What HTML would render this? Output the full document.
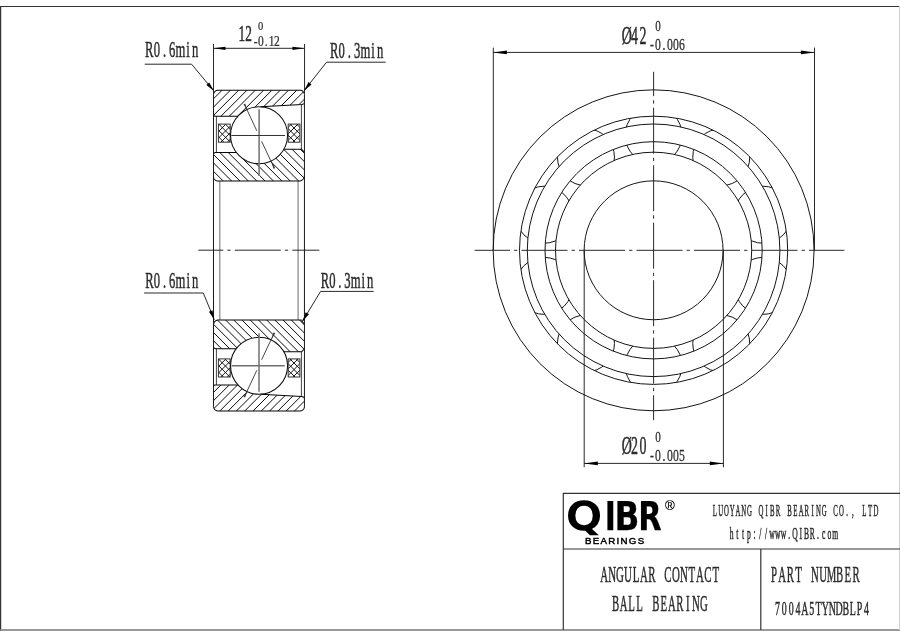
<!DOCTYPE html>
<html lang="en"><head><meta charset="utf-8"><title>7004A5TYNDBLP4 Angular Contact Ball Bearing - QIBR</title>
<style>html,body{margin:0;padding:0;background:#fff}body{width:900px;height:636px;overflow:hidden}svg{display:block;will-change:transform;filter:grayscale(1)}text{font-family:"Liberation Serif",serif;fill:#2b2b2b}.m{stroke:#2b2b2b;stroke-width:0.4;vector-effect:non-scaling-stroke;paint-order:stroke}.sans{font-family:"Liberation Sans",sans-serif}.logo{font-family:"DejaVu Sans","Liberation Sans",sans-serif}.k{fill:#000;stroke:#000}.l{stroke:#050505;stroke-width:1.02;fill:none}.t{stroke:#444;stroke-width:1;fill:none}.h{stroke:#0a0a0a;stroke-width:1;fill:none}.c{stroke:#151515;stroke-width:1;fill:none}.cl{stroke:#161616;stroke-width:0.92;fill:none}.ar{fill:#000;stroke:none}</style></head><body>
<svg width="900" height="636" viewBox="0 0 900 636">
<rect width="900" height="636" fill="#fff"/>
<defs>
<clipPath id="cOT"><path d="M214.7 116.2 L213.5 115 L213.5 94.85 L213.51 94.54 L213.54 94.24 L213.59 93.93 L213.66 93.63 L213.75 93.34 L213.86 93.05 L213.98 92.77 L214.13 92.5 L214.29 92.24 L214.47 91.99 L214.67 91.75 L214.88 91.53 L215.1 91.32 L215.34 91.12 L215.59 90.94 L215.85 90.78 L216.12 90.63 L216.4 90.51 L216.69 90.4 L216.98 90.31 L217.28 90.24 L217.59 90.19 L217.89 90.16 L218.2 90.15 L299.85 90.15 L300.15 90.16 L300.45 90.19 L300.75 90.24 L301.04 90.31 L301.33 90.39 L301.61 90.5 L301.88 90.62 L302.15 90.77 L302.41 90.93 L302.65 91.1 L302.88 91.29 L303.1 91.5 L303.31 91.72 L303.5 91.95 L303.67 92.19 L303.83 92.45 L303.98 92.72 L304.1 92.99 L304.21 93.27 L304.29 93.56 L304.36 93.85 L304.41 94.15 L304.44 94.45 L304.45 94.75 L304.45 102.54 L303.85 103.94 L301.85 104.54 L260.64 106.84 L258.83 106.8 L257.01 106.87 L255.2 107.06 L253.41 107.36 L251.65 107.78 L249.91 108.31 L248.21 108.94 L246.55 109.69 L244.95 110.53 L243.4 111.48 L241.91 112.53 L240.5 113.67 L239.16 114.89 L237.9 116.2 Z"/></clipPath>
<clipPath id="cOB"><path d="M214.7 384.9 L213.5 386.1 L213.5 406.25 L213.51 406.56 L213.54 406.86 L213.59 407.17 L213.66 407.47 L213.75 407.76 L213.86 408.05 L213.98 408.33 L214.13 408.6 L214.29 408.86 L214.47 409.11 L214.67 409.35 L214.88 409.57 L215.1 409.78 L215.34 409.98 L215.59 410.16 L215.85 410.32 L216.12 410.47 L216.4 410.59 L216.69 410.7 L216.98 410.79 L217.28 410.86 L217.59 410.91 L217.89 410.94 L218.2 410.95 L299.85 410.95 L300.15 410.94 L300.45 410.91 L300.75 410.86 L301.04 410.79 L301.33 410.71 L301.61 410.6 L301.88 410.48 L302.15 410.33 L302.41 410.17 L302.65 410 L302.88 409.81 L303.1 409.6 L303.31 409.38 L303.5 409.15 L303.67 408.91 L303.83 408.65 L303.98 408.38 L304.1 408.11 L304.21 407.83 L304.29 407.54 L304.36 407.25 L304.41 406.95 L304.44 406.65 L304.45 406.35 L304.45 398.56 L303.85 397.16 L301.85 396.56 L260.64 394.26 L258.83 394.3 L257.01 394.23 L255.2 394.04 L253.41 393.74 L251.65 393.32 L249.91 392.79 L248.21 392.16 L246.55 391.41 L244.95 390.57 L243.4 389.62 L241.91 388.57 L240.5 387.43 L239.16 386.21 L237.9 384.9 Z"/></clipPath>
<clipPath id="cIT"><path d="M213.5 154.9 L213.51 154.74 L213.52 154.57 L213.55 154.41 L213.59 154.25 L213.63 154.1 L213.69 153.94 L213.76 153.79 L213.83 153.65 L213.92 153.51 L214.02 153.38 L214.12 153.25 L214.23 153.13 L214.35 153.02 L214.48 152.92 L214.61 152.82 L214.75 152.73 L214.89 152.66 L215.04 152.59 L215.2 152.53 L215.35 152.49 L215.51 152.45 L215.67 152.42 L215.84 152.41 L216 152.4 L236.25 152.4 L237.35 153.78 L238.53 155.08 L239.79 156.31 L241.13 157.46 L242.53 158.53 L244 159.5 L245.52 160.39 L247.1 161.17 L248.72 161.86 L250.38 162.45 L252.07 162.93 L253.79 163.31 L255.54 163.58 L257.29 163.75 L259.05 163.8 L260.82 163.74 L262.59 163.58 L264.34 163.31 L266.07 162.92 L267.77 162.43 L269.44 161.84 L271.07 161.14 L272.65 160.34 L274.18 159.45 L275.65 158.46 L277.06 157.39 L278.4 156.22 L279.66 154.98 L280.85 153.66 L281.95 152.27 L282.96 150.82 L283.87 149.3 L301.55 149.3 L304.45 152.3 L304.45 175.3 L304.44 175.68 L304.4 176.06 L304.34 176.43 L304.25 176.8 L304.14 177.16 L304.01 177.52 L303.85 177.87 L303.67 178.2 L303.47 178.52 L303.25 178.83 L303.01 179.12 L302.75 179.4 L302.47 179.66 L302.18 179.9 L301.87 180.12 L301.55 180.32 L301.22 180.5 L300.87 180.66 L300.51 180.79 L300.15 180.9 L299.78 180.99 L299.41 181.05 L299.03 181.09 L298.65 181.1 L218.3 181.1 L217.99 181.09 L217.67 181.06 L217.36 181.01 L217.06 180.94 L216.76 180.85 L216.46 180.73 L216.18 180.6 L215.9 180.46 L215.63 180.29 L215.38 180.11 L215.14 179.91 L214.91 179.69 L214.69 179.46 L214.49 179.22 L214.31 178.97 L214.14 178.7 L214 178.42 L213.87 178.14 L213.75 177.84 L213.66 177.54 L213.59 177.24 L213.54 176.93 L213.51 176.61 L213.5 176.3 Z"/></clipPath>
<clipPath id="cIB"><path d="M213.5 346.2 L213.51 346.36 L213.52 346.53 L213.55 346.69 L213.59 346.85 L213.63 347 L213.69 347.16 L213.76 347.31 L213.83 347.45 L213.92 347.59 L214.02 347.72 L214.12 347.85 L214.23 347.97 L214.35 348.08 L214.48 348.18 L214.61 348.28 L214.75 348.37 L214.89 348.44 L215.04 348.51 L215.2 348.57 L215.35 348.61 L215.51 348.65 L215.67 348.68 L215.84 348.69 L216 348.7 L236.25 348.7 L237.35 347.32 L238.53 346.02 L239.79 344.79 L241.13 343.64 L242.53 342.57 L244 341.6 L245.52 340.71 L247.1 339.93 L248.72 339.24 L250.38 338.65 L252.07 338.17 L253.79 337.79 L255.54 337.52 L257.29 337.35 L259.05 337.3 L260.82 337.36 L262.59 337.52 L264.34 337.79 L266.07 338.18 L267.77 338.67 L269.44 339.26 L271.07 339.96 L272.65 340.76 L274.18 341.65 L275.65 342.64 L277.06 343.71 L278.4 344.88 L279.66 346.12 L280.85 347.44 L281.95 348.83 L282.96 350.28 L283.87 351.8 L301.55 351.8 L304.45 348.8 L304.45 324.2 L300.65 320 L218.3 320 L217.99 320.01 L217.67 320.04 L217.36 320.09 L217.06 320.16 L216.76 320.25 L216.46 320.37 L216.18 320.5 L215.9 320.64 L215.63 320.81 L215.38 320.99 L215.14 321.19 L214.91 321.41 L214.69 321.64 L214.49 321.88 L214.31 322.13 L214.14 322.4 L214 322.68 L213.87 322.96 L213.75 323.26 L213.66 323.56 L213.59 323.86 L213.54 324.17 L213.51 324.49 L213.5 324.8 Z"/></clipPath>
<clipPath id="cAn"><path clip-rule="evenodd" d="M519.5 250.3 a134.1 134.1 0 1 0 268.2 0 a134.1 134.1 0 1 0 -268.2 0 Z M527.3 250.3 a126.3 126.3 0 1 0 252.6 0 a126.3 126.3 0 1 0 -252.6 0 Z M545 250.3 a108.6 108.6 0 1 0 217.2 0 a108.6 108.6 0 1 0 -217.2 0 Z M555.5 250.3 a98.1 98.1 0 1 0 196.2 0 a98.1 98.1 0 1 0 -196.2 0 Z"/></clipPath>
<clipPath id="cG0"><rect x="218.4" y="124.1" width="11.8" height="18.1"/></clipPath>
<clipPath id="cH0"><rect x="218.4" y="358.9" width="11.8" height="18.1"/></clipPath>
<clipPath id="cG1"><rect x="288.2" y="124.1" width="11.7" height="18.1"/></clipPath>
<clipPath id="cH1"><rect x="288.2" y="358.9" width="11.7" height="18.1"/></clipPath>
</defs>
<g id="frame">
<line x1="0" y1="6.5" x2="900" y2="6.5" stroke="#333" stroke-width="1.1"/>
<line x1="0.5" y1="6" x2="0.5" y2="630.5" stroke="#333" stroke-width="1.4"/>
<line x1="0" y1="630" x2="900" y2="630" stroke="#777" stroke-width="1.6"/>
<line x1="899.5" y1="6" x2="899.5" y2="630" stroke="#d2d2d2" stroke-width="1"/>
</g>
<g id="side-view">
<path class="h" clip-path="url(#cOT)" d="M177.7 118 L207.7 88 M186 118 L216 88 M194.3 118 L224.3 88 M202.6 118 L232.6 88 M210.9 118 L240.9 88 M219.2 118 L249.2 88 M227.5 118 L257.5 88 M235.8 118 L265.8 88 M244.1 118 L274.1 88 M252.4 118 L282.4 88 M260.7 118 L290.7 88 M269 118 L299 88 M277.3 118 L307.3 88 M285.6 118 L315.6 88 M293.9 118 L323.9 88 M302.2 118 L332.2 88 M310.5 118 L340.5 88"/>
<path class="h" clip-path="url(#cIT)" d="M171.44 146 L208.44 183 M179.82 146 L216.82 183 M188.2 146 L225.2 183 M196.58 146 L233.58 183 M204.96 146 L241.96 183 M213.34 146 L250.34 183 M221.72 146 L258.72 183 M230.1 146 L267.1 183 M238.48 146 L275.48 183 M246.86 146 L283.86 183 M255.24 146 L292.24 183 M263.62 146 L300.62 183 M272 146 L309 183 M280.38 146 L317.38 183 M288.76 146 L325.76 183 M297.14 146 L334.14 183 M305.52 146 L342.52 183"/>
<path class="h" clip-path="url(#cIB)" d="M174.45 318.1 L211.45 355.1 M182.66 318.1 L219.66 355.1 M190.87 318.1 L227.87 355.1 M199.08 318.1 L236.08 355.1 M207.29 318.1 L244.29 355.1 M215.5 318.1 L252.5 355.1 M223.71 318.1 L260.71 355.1 M231.92 318.1 L268.92 355.1 M240.13 318.1 L277.13 355.1 M248.34 318.1 L285.34 355.1 M256.55 318.1 L293.55 355.1 M264.76 318.1 L301.76 355.1 M272.97 318.1 L309.97 355.1 M281.18 318.1 L318.18 355.1 M289.39 318.1 L326.39 355.1 M297.6 318.1 L334.6 355.1 M305.81 318.1 L342.81 355.1"/>
<path class="h" clip-path="url(#cOB)" d="M126.4 413.1 L156.4 383.1 M134.7 413.1 L164.7 383.1 M143 413.1 L173 383.1 M151.3 413.1 L181.3 383.1 M159.6 413.1 L189.6 383.1 M167.9 413.1 L197.9 383.1 M176.2 413.1 L206.2 383.1 M184.5 413.1 L214.5 383.1 M192.8 413.1 L222.8 383.1 M201.1 413.1 L231.1 383.1 M209.4 413.1 L239.4 383.1 M217.7 413.1 L247.7 383.1 M226 413.1 L256 383.1 M234.3 413.1 L264.3 383.1 M242.6 413.1 L272.6 383.1 M250.9 413.1 L280.9 383.1 M259.2 413.1 L289.2 383.1 M267.5 413.1 L297.5 383.1 M275.8 413.1 L305.8 383.1 M284.1 413.1 L314.1 383.1 M292.4 413.1 L322.4 383.1 M300.7 413.1 L330.7 383.1 M309 413.1 L339 383.1"/>
<path style="stroke-width:0.95" class="h" clip-path="url(#cG0)" d="M194.8 142.2 L212.9 124.1 M201.3 142.2 L219.4 124.1 M207.8 142.2 L225.9 124.1 M214.3 142.2 L232.4 124.1 M220.8 142.2 L238.9 124.1 M227.3 142.2 L245.4 124.1 M233.8 142.2 L251.9 124.1 M199.3 124.1 L217.4 142.2 M205.8 124.1 L223.9 142.2 M212.3 124.1 L230.4 142.2 M218.8 124.1 L236.9 142.2 M225.3 124.1 L243.4 142.2 M231.8 124.1 L249.9 142.2"/>
<rect style="stroke:#333" class="t" x="218.4" y="124.1" width="11.8" height="18.1"/>
<path style="stroke-width:0.95" class="h" clip-path="url(#cH0)" d="M194.9 377 L213 358.9 M201.4 377 L219.5 358.9 M207.9 377 L226 358.9 M214.4 377 L232.5 358.9 M220.9 377 L239 358.9 M227.4 377 L245.5 358.9 M233.9 377 L252 358.9 M198.8 358.9 L216.9 377 M205.3 358.9 L223.4 377 M211.8 358.9 L229.9 377 M218.3 358.9 L236.4 377 M224.8 358.9 L242.9 377 M231.3 358.9 L249.4 377"/>
<rect style="stroke:#333" class="t" x="218.4" y="358.9" width="11.8" height="18.1"/>
<path style="stroke-width:0.95" class="h" clip-path="url(#cG1)" d="M266.8 142.2 L284.9 124.1 M273.3 142.2 L291.4 124.1 M279.8 142.2 L297.9 124.1 M286.3 142.2 L304.4 124.1 M292.8 142.2 L310.9 124.1 M299.3 142.2 L317.4 124.1 M305.8 142.2 L323.9 124.1 M264.1 124.1 L282.2 142.2 M270.6 124.1 L288.7 142.2 M277.1 124.1 L295.2 142.2 M283.6 124.1 L301.7 142.2 M290.1 124.1 L308.2 142.2 M296.6 124.1 L314.7 142.2 M303.1 124.1 L321.2 142.2"/>
<rect style="stroke:#333" class="t" x="288.2" y="124.1" width="11.7" height="18.1"/>
<path style="stroke-width:0.95" class="h" clip-path="url(#cH1)" d="M267.05 377 L285.15 358.9 M273.55 377 L291.65 358.9 M280.05 377 L298.15 358.9 M286.55 377 L304.65 358.9 M293.05 377 L311.15 358.9 M299.55 377 L317.65 358.9 M306.05 377 L324.15 358.9 M263.85 358.9 L281.95 377 M270.35 358.9 L288.45 377 M276.85 358.9 L294.95 377 M283.35 358.9 L301.45 377 M289.85 358.9 L307.95 377 M296.35 358.9 L314.45 377 M302.85 358.9 L320.95 377"/>
<rect style="stroke:#333" class="t" x="288.2" y="358.9" width="11.7" height="18.1"/>
<line class="t" x1="216.4" y1="116.2" x2="216.4" y2="152.4"/>
<line class="t" x1="301.4" y1="104.54" x2="301.4" y2="149.3"/>
<line class="t" x1="216.4" y1="384.9" x2="216.4" y2="348.7"/>
<line class="t" x1="301.4" y1="396.56" x2="301.4" y2="351.8"/>
<line style="stroke:#858585;stroke-width:1.2" class="t" x1="219.8" y1="181.1" x2="219.8" y2="320"/>
<line style="stroke:#858585;stroke-width:1.2" class="t" x1="298.1" y1="181.1" x2="298.1" y2="320"/>
<path class="l" d="M237.9 116.2 L214.7 116.2 L213.5 115 M213.5 94.85 L213.51 94.54 L213.54 94.24 L213.59 93.93 L213.66 93.63 L213.75 93.34 L213.86 93.05 L213.98 92.77 L214.13 92.5 L214.29 92.24 L214.47 91.99 L214.67 91.75 L214.88 91.53 L215.1 91.32 L215.34 91.12 L215.59 90.94 L215.85 90.78 L216.12 90.63 L216.4 90.51 L216.69 90.4 L216.98 90.31 L217.28 90.24 L217.59 90.19 L217.89 90.16 L218.2 90.15 L299.85 90.15 L300.15 90.16 L300.45 90.19 L300.75 90.24 L301.04 90.31 L301.33 90.39 L301.61 90.5 L301.88 90.62 L302.15 90.77 L302.41 90.93 L302.65 91.1 L302.88 91.29 L303.1 91.5 L303.31 91.72 L303.5 91.95 L303.67 92.19 L303.83 92.45 L303.98 92.72 L304.1 92.99 L304.21 93.27 L304.29 93.56 L304.36 93.85 L304.41 94.15 L304.44 94.45 L304.45 94.75 M304.45 102.54 L303.85 103.94 L301.85 104.54 L260.64 106.84 M213.5 154.9 L213.51 154.74 L213.52 154.57 L213.55 154.41 L213.59 154.25 L213.63 154.1 L213.69 153.94 L213.76 153.79 L213.83 153.65 L213.92 153.51 L214.02 153.38 L214.12 153.25 L214.23 153.13 L214.35 153.02 L214.48 152.92 L214.61 152.82 L214.75 152.73 L214.89 152.66 L215.04 152.59 L215.2 152.53 L215.35 152.49 L215.51 152.45 L215.67 152.42 L215.84 152.41 L216 152.4 L236.25 152.4 M283.87 149.3 L301.55 149.3 L304.45 152.3 M304.45 175.3 L304.44 175.68 L304.4 176.06 L304.34 176.43 L304.25 176.8 L304.14 177.16 L304.01 177.52 L303.85 177.87 L303.67 178.2 L303.47 178.52 L303.25 178.83 L303.01 179.12 L302.75 179.4 L302.47 179.66 L302.18 179.9 L301.87 180.12 L301.55 180.32 L301.22 180.5 L300.87 180.66 L300.51 180.79 L300.15 180.9 L299.78 180.99 L299.41 181.05 L299.03 181.09 L298.65 181.1 L218.3 181.1 L217.99 181.09 L217.67 181.06 L217.36 181.01 L217.06 180.94 L216.76 180.85 L216.46 180.73 L216.18 180.6 L215.9 180.46 L215.63 180.29 L215.38 180.11 L215.14 179.91 L214.91 179.69 L214.69 179.46 L214.49 179.22 L214.31 178.97 L214.14 178.7 L214 178.42 L213.87 178.14 L213.75 177.84 L213.66 177.54 L213.59 177.24 L213.54 176.93 L213.51 176.61 L213.5 176.3"/>
<path class="l" d="M237.9 384.9 L214.7 384.9 L213.5 386.1 M213.5 406.25 L213.51 406.56 L213.54 406.86 L213.59 407.17 L213.66 407.47 L213.75 407.76 L213.86 408.05 L213.98 408.33 L214.13 408.6 L214.29 408.86 L214.47 409.11 L214.67 409.35 L214.88 409.57 L215.1 409.78 L215.34 409.98 L215.59 410.16 L215.85 410.32 L216.12 410.47 L216.4 410.59 L216.69 410.7 L216.98 410.79 L217.28 410.86 L217.59 410.91 L217.89 410.94 L218.2 410.95 L299.85 410.95 L300.15 410.94 L300.45 410.91 L300.75 410.86 L301.04 410.79 L301.33 410.71 L301.61 410.6 L301.88 410.48 L302.15 410.33 L302.41 410.17 L302.65 410 L302.88 409.81 L303.1 409.6 L303.31 409.38 L303.5 409.15 L303.67 408.91 L303.83 408.65 L303.98 408.38 L304.1 408.11 L304.21 407.83 L304.29 407.54 L304.36 407.25 L304.41 406.95 L304.44 406.65 L304.45 406.35 M304.45 398.56 L303.85 397.16 L301.85 396.56 L260.64 394.26 M213.5 346.2 L213.51 346.36 L213.52 346.53 L213.55 346.69 L213.59 346.85 L213.63 347 L213.69 347.16 L213.76 347.31 L213.83 347.45 L213.92 347.59 L214.02 347.72 L214.12 347.85 L214.23 347.97 L214.35 348.08 L214.48 348.18 L214.61 348.28 L214.75 348.37 L214.89 348.44 L215.04 348.51 L215.2 348.57 L215.35 348.61 L215.51 348.65 L215.67 348.68 L215.84 348.69 L216 348.7 L236.25 348.7 M283.87 351.8 L301.55 351.8 L304.45 348.8 M304.45 324.2 L300.65 320 L218.3 320 L217.99 320.01 L217.67 320.04 L217.36 320.09 L217.06 320.16 L216.76 320.25 L216.46 320.37 L216.18 320.5 L215.9 320.64 L215.63 320.81 L215.38 320.99 L215.14 321.19 L214.91 321.41 L214.69 321.64 L214.49 321.88 L214.31 322.13 L214.14 322.4 L214 322.68 L213.87 322.96 L213.75 323.26 L213.66 323.56 L213.59 323.86 L213.54 324.17 L213.51 324.49 L213.5 324.8"/>
<path style="stroke:#777" class="t" d="M300.65 320 L304.45 320"/>
<line style="stroke:#1c1c1c" class="l" x1="213.5" y1="94.85" x2="213.5" y2="406.25"/>
<line style="stroke:#1c1c1c" class="l" x1="304.45" y1="94.75" x2="304.45" y2="406.35"/>
<circle style="stroke:#0c0c0c;stroke-width:1.02" class="c" cx="259.05" cy="135.3" r="28.5"/>
<line x1="259.1" y1="109.2" x2="259.1" y2="176.0" stroke="#707070" stroke-width="1.5"/>
<line x1="231.3" y1="135.5" x2="285.1" y2="135.5" stroke="#333" stroke-width="1"/>
<line x1="244.3" y1="104" x2="256.8" y2="130.8" stroke="#333" stroke-width="0.9"/>
<path d="M247.1 109.3 L245.1 103.58 L243.5 104.42 Z" fill="#333"/>
<line x1="261.6" y1="141.3" x2="274.3" y2="168.3" stroke="#333" stroke-width="0.9"/>
<path d="M271.3 161.1 L273.47 168.65 L275.13 167.95 Z" fill="#333"/>
<circle style="stroke:#0c0c0c;stroke-width:1.02" class="c" cx="259.05" cy="365.8" r="28.5"/>
<line x1="259.0" y1="333.3" x2="259.0" y2="391.8" stroke="#707070" stroke-width="1.5"/>
<line x1="231.6" y1="365.7" x2="284.8" y2="365.7" stroke="#707070" stroke-width="1.5"/>
<line x1="244.3" y1="397.1" x2="256.8" y2="370.3" stroke="#333" stroke-width="0.9"/>
<path d="M247.1 391.8 L243.5 396.68 L245.1 397.52 Z" fill="#333"/>
<line x1="261.6" y1="359.8" x2="274.3" y2="332.8" stroke="#333" stroke-width="0.9"/>
<path d="M271.3 340 L275.13 333.15 L273.47 332.45 Z" fill="#333"/>
<line class="cl" x1="198.3" y1="250.2" x2="319.3" y2="250.2" stroke-dasharray="46 4 3.3 4.2" stroke-dashoffset="21"/>
</g>
<g id="front-view">
<circle class="c" cx="653.6" cy="250.3" r="160.45"/>
<circle class="c" cx="653.6" cy="250.3" r="134.1"/>
<circle class="c" cx="653.6" cy="250.3" r="126.3"/>
<circle class="c" cx="653.6" cy="250.3" r="108.6"/>
<circle class="c" cx="653.6" cy="250.3" r="98.1"/>
<circle class="c" cx="653.6" cy="250.3" r="69.45"/>
<g clip-path="url(#cAn)">
<circle class="c" cx="653.6" cy="135.2" r="28.5"/>
<circle class="c" cx="721.25" cy="157.18" r="28.5"/>
<circle class="c" cx="763.07" cy="214.73" r="28.5"/>
<circle class="c" cx="763.07" cy="285.87" r="28.5"/>
<circle class="c" cx="721.25" cy="343.42" r="28.5"/>
<circle class="c" cx="653.6" cy="365.4" r="28.5"/>
<circle class="c" cx="585.95" cy="343.42" r="28.5"/>
<circle class="c" cx="544.13" cy="285.87" r="28.5"/>
<circle class="c" cx="544.13" cy="214.73" r="28.5"/>
<circle class="c" cx="585.95" cy="157.18" r="28.5"/>
</g>
<line class="cl" x1="474.7" y1="250.3" x2="844.4" y2="250.3" stroke-dasharray="46 4.1 3.3 4.1" stroke-dashoffset="10.7"/>
<line class="cl" x1="653.6" y1="71.8" x2="653.6" y2="420.2" stroke-dasharray="46 4.1 3.3 4.1" stroke-dashoffset="21.6"/>
</g>
<g id="dimensions">
<path class="cl" d="M213.5 44 V94.15 M304.55 44 V93.15 M213.5 48.3 H304.45"/>
<path class="ar" d="M213.5 48.3 L225.5 46.7 L225.5 49.9 Z"/>
<path class="ar" d="M304.45 48.3 L292.45 49.9 L292.45 46.7 Z"/>
<path class="cl" d="M493.3 47.6 V250.3 M814.5 47.6 V250.3 M493.3 52.4 H814.5"/>
<path class="ar" d="M493.3 52.4 L506.9 50.6 L506.9 54.2 Z"/>
<path class="ar" d="M814.5 52.4 L800.9 54.2 L800.9 50.6 Z"/>
<path class="cl" d="M584.2 250.3 V467.2 M723.4 250.3 V467.2 M584.2 463.4 H723.4"/>
<path class="ar" d="M584.2 463.4 L597.8 461.6 L597.8 465.2 Z"/>
<path class="ar" d="M723.4 463.4 L709.8 465.2 L709.8 461.6 Z"/>
<path class="cl" d="M144.7 64.2 H191.6 L213.9 91"/><path class="ar" d="M213.9 91 L206.36 84.91 L209.28 82.48 Z"/>
<path class="cl" d="M385.7 62.2 H326.5 L304.1 90.7"/><path class="ar" d="M304.1 90.7 L308.48 82.06 L311.46 84.4 Z"/>
<path class="cl" d="M144.1 293 H203.3 L214.3 319.8"/><path class="ar" d="M214.3 319.8 L208.94 311.73 L212.45 310.29 Z"/>
<path class="cl" d="M373.6 291.4 H320.6 L302.4 321.4"/><path class="ar" d="M302.4 321.4 L305.7 312.29 L308.95 314.26 Z"/>
</g>
<g id="labels" opacity="0.999">
<text class="m" transform="scale(0.53 1)" x="281.7 296.04 310.38 324.72 340.38 354.91 368.11" y="57.5" font-size="23.82" text-anchor="middle">R0.6min</text>
<text class="m" transform="scale(0.53 1)" x="630.42 644.83 659.25 673.66 689.4 704 717.28" y="57.8" font-size="23.82" text-anchor="middle">R0.3min</text>
<text class="m" transform="scale(0.53 1)" x="281.89 296.23 310.57 324.91 340.57 355.09 368.3" y="287.6" font-size="23.82" text-anchor="middle">R0.6min</text>
<text class="m" transform="scale(0.53 1)" x="612.92 627.08 641.23 655.38 670.85 685.19 698.21" y="287.6" font-size="23.82" text-anchor="middle">R0.3min</text>
<text class="m" transform="scale(0.58 1)" x="417.07 428.45" y="40.8" font-size="22.9" text-anchor="middle">12</text>
<text class="m" transform="scale(0.8 1)" x="325.87" y="30.2" font-size="13.13" text-anchor="middle" style="stroke-width:0.22">0</text>
<text class="m" transform="scale(0.8 1)" x="319.56 326.19 332.81 339.44 346.06" y="45.8" font-size="14.35" text-anchor="middle" style="stroke-width:0.22">-0.12</text>
<text class="m" transform="scale(0.55 1)" x="1139.45 1153.64 1169.27" y="43.6" font-size="25.34" text-anchor="middle">Ø42</text>
<text class="m" transform="scale(0.74 1)" x="889.19" y="31.2" font-size="15.11" text-anchor="middle" style="stroke-width:0.22">0</text>
<text class="m" transform="scale(0.74 1)" x="881.08 889.19 897.3 905.41 913.51 921.62" y="50" font-size="15.88" text-anchor="middle" style="stroke-width:0.22">-0.006</text>
<text class="m" transform="scale(0.55 1)" x="1139.45 1153.64 1169.27" y="454.4" font-size="25.34" text-anchor="middle">Ø20</text>
<text class="m" transform="scale(0.74 1)" x="889.19" y="442.3" font-size="15.11" text-anchor="middle" style="stroke-width:0.22">0</text>
<text class="m" transform="scale(0.74 1)" x="881.08 889.19 897.3 905.41 913.51 921.62" y="460.6" font-size="15.88" text-anchor="middle" style="stroke-width:0.22">-0.005</text>
</g>
<g id="title-block">
<path d="M563.3 630 V493.3 H900 M563.3 549 H900 M760.8 549 V630" stroke="#333" stroke-width="1.2" fill="none"/>
<g id="title-text" opacity="0.999">
<text class="logo k" font-size="39.8" font-weight="700" stroke-width="0.25"><tspan x="566.98" y="529" font-size="37" font-weight="400" stroke-width="2.4" stroke-linejoin="miter" textLength="34.07" lengthAdjust="spacingAndGlyphs">Q</tspan><tspan x="604.65" y="530" textLength="11.11" lengthAdjust="spacingAndGlyphs">I</tspan><tspan x="614.4" y="530" textLength="24.88" lengthAdjust="spacingAndGlyphs">B</tspan><tspan x="638.21" y="530" textLength="23.38" lengthAdjust="spacingAndGlyphs">R</tspan></text>
<text class="sans k" x="670" y="509.6" font-size="13.3" text-anchor="middle" fill="#111" stroke="#111" stroke-width="0.15">®</text>
<text class="sans k" x="584.9" y="544.3" font-size="9.7" font-weight="400" stroke-width="0.45" textLength="59.3" lengthAdjust="spacing">BEARINGS</text>
<text class="m" transform="scale(0.42 1)" x="1702.08 1715.77 1729.46 1743.15 1756.85 1770.54 1784.23 1797.92 1811.61 1825.3 1838.99 1852.68 1866.37 1880.06 1893.75 1907.44 1921.13 1934.82 1948.51 1962.2 1975.89 1989.58 2003.27 2016.96 2030.65 2044.35 2058.04 2071.73 2085.42" y="515.6" font-size="16.18" text-anchor="middle">LUOYANG QIBR BEARING CO., LTD</text>
<text class="m" transform="scale(0.46 1)" x="1590.6 1603.1 1615.6 1628.1 1640.6 1653.1 1665.6 1678.1 1690.6 1703.1 1715.6 1728.1 1740.6 1753.1 1765.6 1778.1 1790.6 1803.1 1815.6" y="538.9" font-size="16.49" text-anchor="middle">http://www.QIBR.com</text>
<text class="m" transform="scale(0.47 1)" x="1285.3 1302.28 1319.26 1336.23 1353.21 1370.19 1387.17 1404.15 1421.13 1438.11 1455.09 1472.06 1489.04 1506.02 1523" y="582.2" font-size="23.21" text-anchor="middle">ANGULAR CONTACT</text>
<text class="m" transform="scale(0.47 1)" x="1309.62 1326.72 1343.83 1360.94 1378.04 1395.15 1412.26 1429.36 1446.47 1463.57 1480.68 1497.79" y="611.3" font-size="22.9" text-anchor="middle">BALL BEARING</text>
<text class="m" transform="scale(0.47 1)" x="1646.62 1664.11 1681.6 1699.09 1716.57 1734.06 1751.55 1769.04 1786.53 1804.02 1821.51" y="582" font-size="22.9" text-anchor="middle">PART NUMBER</text>
<text class="m" transform="scale(0.5 1)" x="1554.85 1568.55 1582.25 1595.95 1609.65 1623.35 1637.05 1650.75 1664.45 1678.15 1691.85 1705.55 1719.25 1732.95" y="615" font-size="19.85" text-anchor="middle">7004A5TYNDBLP4</text>
</g></g>
</svg></body></html>
